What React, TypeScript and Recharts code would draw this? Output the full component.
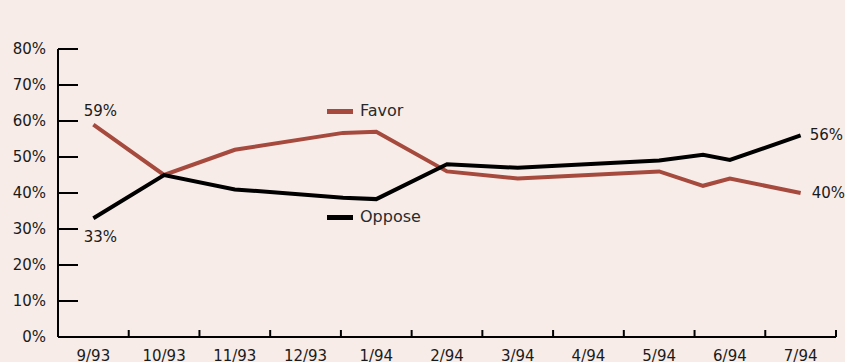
import React from "react";
import { LineChart, Line, XAxis, YAxis } from "recharts";

// ---- data ----
const monthLabels = ["9/93", "10/93", "11/93", "12/93", "1/94", "2/94", "3/94", "4/94", "5/94", "6/94", "7/94"];
// poll position in months since start of 9/93
const pollTimes = [0.5, 1.5, 2.5, 4.03, 4.5, 5.5, 6.5, 8.5, 9.12, 9.5, 10.5];
const favor = [59, 45, 52, 56.7, 57, 46, 44, 46, 42, 44, 40];
const oppose = [33, 45, 41, 38.7, 38.3, 48, 47, 49, 50.6, 49.2, 56];
const yTicks = [0, 10, 20, 30, 40, 50, 60, 70, 80];

const data = pollTimes.map((t, i) => ({ t, favor: favor[i], oppose: oppose[i] }));
const labelTicks = monthLabels.map((_, i) => i + 0.5);

// ---- style ----
const W = 845;
const H = 362;
const BG = "#f7ece8";
const RED = "#a64a3e";
const BLACK = "#000000";
const FONT = "'DejaVu Sans', sans-serif";
const Y_AXIS_W = 58;
const MARGIN = { top: 49, right: 9, bottom: 0, left: 0 };
const X_AXIS_H = 25;
const PLOT_W = W - Y_AXIS_W - MARGIN.right - MARGIN.left;
const HALF_BAND = PLOT_W / monthLabels.length / 2;
const Y_TICK_MARGIN = 12;
const X_TICK_MARGIN = 13;

const YTick = (props: any) => {
  const { x, y, payload } = props;
  const ax = x + Y_TICK_MARGIN;
  return (
    <g>
      <line x1={ax} x2={ax + 20} y1={y} y2={y} stroke={BLACK} strokeWidth={2} />
      <text x={x} y={y} textAnchor="end" dominantBaseline="central" fontFamily={FONT} fontSize={15} fill="#1a1a1a">
        {`${payload.value}%`}
      </text>
    </g>
  );
};

const XTick = (props: any) => {
  const { x, y, payload, index } = props;
  const ay = y - X_TICK_MARGIN;
  const bx = x + HALF_BAND;
  return (
    <g>
      <line x1={bx} x2={bx} y1={ay} y2={ay - 7} stroke={BLACK} strokeWidth={2} />
      <text x={x} y={y} dy="0.71em" textAnchor="middle" fontFamily={FONT} fontSize={15} fill="#1a1a1a">
        {monthLabels[index ?? Math.round(payload.value - 0.5)]}
      </text>
    </g>
  );
};

const makeLabel = (series: "favor" | "oppose") => (props: any) => {
  const { x, y, value, index } = props;
  const last = data.length - 1;
  if (index !== 0 && index !== last) return null;
  const txt = `${Math.round(value)}%`;
  if (index === 0) {
    if (series === "favor") {
      return (
        <text x={x + 7} y={y - 9} textAnchor="middle" fontFamily={FONT} fontSize={15} fill="#1a1a1a">
          {txt}
        </text>
      );
    }
    return (
      <text x={x + 7} y={y + 24} textAnchor="middle" fontFamily={FONT} fontSize={15} fill="#1a1a1a">
        {txt}
      </text>
    );
  }
  return (
    <text x={x + (series === "favor" ? 11 : 9)} y={y} textAnchor="start" dominantBaseline="central" fontFamily={FONT} fontSize={15} fill="#1a1a1a">
      {txt}
    </text>
  );
};

const LegendItem = ({ top, color, label }: { top: number; color: string; label: string }) => (
  <div style={{ position: "absolute", left: 327, top, display: "flex", alignItems: "center", height: 20 }}>
    <div style={{ width: 26, height: 5, background: color }} />
    <span style={{ marginLeft: 7, fontFamily: FONT, fontSize: 16, color: "#2a2a2a", lineHeight: "20px" }}>{label}</span>
  </div>
);

export default function App() {
  return (
    <div style={{ position: "absolute", left: 0, top: 0, width: W, height: H, background: BG, overflow: "hidden" }}>
      <LineChart width={W} height={H} data={data} margin={MARGIN}>
        <XAxis
          dataKey="t"
          type="number"
          domain={[0, monthLabels.length]}
          ticks={labelTicks}
          interval={0}
          height={X_AXIS_H}
          tickSize={0}
          tickMargin={X_TICK_MARGIN}
          tickLine={false}
          axisLine={{ stroke: BLACK, strokeWidth: 2 }}
          tick={<XTick />}
        />
        <YAxis
          type="number"
          domain={[0, 80]}
          ticks={yTicks}
          interval={0}
          width={Y_AXIS_W}
          tickSize={0}
          tickMargin={Y_TICK_MARGIN}
          tickLine={false}
          axisLine={{ stroke: BLACK, strokeWidth: 2 }}
          tick={<YTick />}
        />
        <Line
          type="linear"
          dataKey="favor"
          stroke={RED}
          strokeWidth={4}
          dot={false}
          isAnimationActive={false}
          label={makeLabel("favor")}
        />
        <Line
          type="linear"
          dataKey="oppose"
          stroke={BLACK}
          strokeWidth={4}
          dot={false}
          isAnimationActive={false}
          label={makeLabel("oppose")}
        />
      </LineChart>
      <LegendItem top={101} color={RED} label="Favor" />
      <LegendItem top={207} color={BLACK} label="Oppose" />
    </div>
  );
}
